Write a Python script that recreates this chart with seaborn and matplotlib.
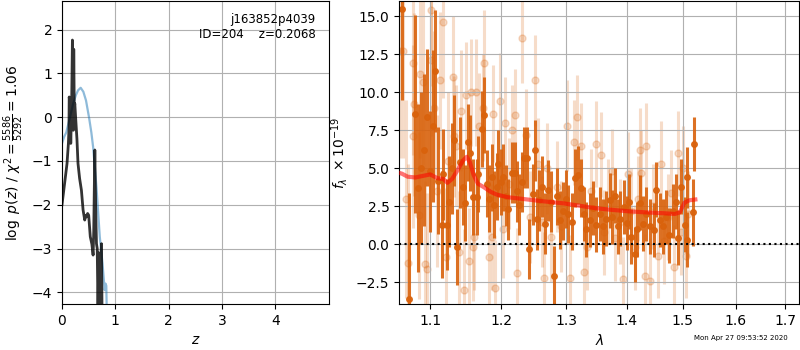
import matplotlib
matplotlib.use("Agg")
import matplotlib.pyplot as plt
import matplotlib.ticker as mticker
import numpy as np
import seaborn as sns

# p(z) panel
z_prior = [0.0, 0.04, 0.08, 0.14, 0.21, 0.26, 0.30, 0.35, 0.40, 0.45, 0.507, 0.55,
           0.583, 0.646, 0.708, 0.759, 0.80, 0.815, 0.83, 0.84]
logp_prior = [-0.6, -0.45, -0.35, -0.05, 0.31, 0.5, 0.61, 0.67, 0.58, 0.38, -0.01, -0.35,
              -0.68, -1.6, -2.73, -3.34, -3.95, -3.8, -3.85, -4.5]

z_fit = [0.0, 0.05, 0.094, 0.12, 0.13, 0.135, 0.15, 0.164, 0.18, 0.195, 0.205, 0.212,
         0.22, 0.23, 0.24, 0.255, 0.27, 0.28, 0.30, 0.33, 0.364, 0.395, 0.426, 0.44,
         0.457, 0.48, 0.50, 0.53, 0.56, 0.583, 0.595, 0.615, 0.63, 0.646, 0.66, 0.675,
         0.69, 0.71, 0.725, 0.74, 0.75, 0.77]
logp_fit = [-2.0, -1.5, -1.06, -0.6, -0.3, 0.46, 0.3, -0.6, 0.2, 1.76, 1.0, -0.3,
            1.55, 0.2, 0.31, 0.0, -0.3, -0.5, -1.06, -1.4, -1.67, -2.12, -2.35, -2.25,
            -2.28, -2.2, -2.24, -2.73, -2.9, -3.15, -2.6, -0.75, -2.0, -2.89, -3.0, -4.4,
            -3.1, -4.4, -3.3, -2.89, -4.4, -4.6]

# spectrum panel - combined points
wave_dark = [1.0625, 1.0721, 1.0791, 1.0831, 1.0875, 1.0915, 1.0955, 1.0995, 1.1045, 1.1068,
             1.1113, 1.1158, 1.1181, 1.1227, 1.1264, 1.1300, 1.1328, 1.1375, 1.1411, 1.1450,
             1.1482, 1.1528, 1.1552, 1.1600, 1.1648, 1.1671, 1.1719, 1.1757, 1.1791, 1.1830,
             1.1863, 1.1900, 1.1936, 1.1960, 1.2000, 1.2033, 1.2070, 1.2107, 1.2157, 1.2207,
             1.2240, 1.2272, 1.2310, 1.2347, 1.2393, 1.2422, 1.2473, 1.2509, 1.2534, 1.2575,
             1.2611, 1.2663, 1.2715, 1.2757, 1.2808, 1.2845, 1.2898, 1.2951, 1.2990, 1.3030,
             1.3084, 1.3138, 1.3191, 1.3229, 1.3283, 1.3326, 1.3381, 1.3435, 1.3490, 1.3546,
             1.3600, 1.3656, 1.3712, 1.3750, 1.3796, 1.3853, 1.3893, 1.3950, 1.4000, 1.4041,
             1.4082, 1.4138, 1.4179, 1.4225, 1.4283, 1.4342, 1.4412, 1.4471, 1.4517, 1.4589,
             1.4637, 1.4697, 1.4744, 1.4816, 1.4877, 1.4907, 1.4968, 1.5030, 1.5073, 1.5080,
             1.5190, 1.5210]
flux_dark = [15.5, -3.6, 8.55, 3.7, 5.0, 6.2, 8.35, 4.8, 7.8, 11.4,
             4.2, 1.3, 4.6, 1.3, 2.8, 5.0, 6.85, -0.2, 5.4, 3.8,
             2.75, 6.7, 6.0, 3.1, 3.1, 4.6, 7.6, 8.5, 4.0, 3.0,
             4.4, 2.6, 3.8, 5.3, 4.1, 4.4, 3.2, 2.3, 4.7, 4.7,
             3.5, 2.6, 4.1, 5.7, 5.7, -0.3, 3.3, 6.2, 1.65, 2.9,
             3.8, 1.35, 3.55, 2.8, -2.1, 3.15, 1.6, 2.2, 3.0, 2.0,
             1.5, 4.35, 4.55, 3.7, 2.0, 1.0, 1.6, 2.4, 1.3, 2.0,
             1.2, 1.7, 2.9, 1.8, 3.2, 1.2, 1.7, 2.45, 1.4, 2.8,
             0.5, -0.65, 1.0, 2.75, 1.35, 2.0, 1.2, 0.95, 3.6, 1.6,
             1.2, 1.8, 0.6, 2.2, 2.8, 0.45, 3.8, 1.3, 0.3, 4.4,
             2.1, 6.6]
err_dark = [6.0, 7.0, 6.5, 5.5, 5.0, 5.0, 4.5, 4.0, 5.0, 4.0,
            3.5, 3.5, 3.0, 3.0, 3.0, 3.0, 3.0, 2.5, 3.0, 2.5,
            2.5, 2.5, 2.5, 2.5, 2.5, 2.5, 2.5, 2.5, 2.2, 2.2,
            2.2, 2.2, 2.2, 2.2, 2.2, 2.2, 2.0, 2.0, 2.0, 2.0,
            2.0, 2.0, 2.0, 2.0, 2.0, 2.0, 2.0, 2.0, 2.0, 2.0,
            2.0, 2.0, 2.0, 2.0, 2.0, 1.9, 1.9, 1.9, 1.9, 1.9,
            1.9, 1.9, 1.9, 1.9, 1.8, 1.8, 1.8, 1.8, 1.8, 1.8,
            1.8, 1.8, 1.8, 1.8, 1.8, 1.8, 1.8, 1.8, 1.8, 1.8,
            1.8, 1.8, 1.8, 1.8, 1.8, 1.8, 1.8, 1.8, 1.8, 1.8,
            1.8, 1.8, 1.8, 1.8, 1.8, 1.8, 1.8, 1.8, 1.8, 2.0,
            2.2, 1.8]

# spectrum panel - individual beams
wave_light = [1.0600, 1.0640, 1.0680, 1.0710, 1.0770, 1.0775, 1.0785, 1.0850, 1.0870, 1.0910,
              1.0930, 1.0960, 1.1010, 1.1015, 1.1050, 1.1090, 1.1130, 1.1180, 1.1210, 1.1240,
              1.1310, 1.1320, 1.1360, 1.1400, 1.1430, 1.1460, 1.1500, 1.1530, 1.1560, 1.1590,
              1.1610, 1.1640, 1.1680, 1.1750, 1.1730, 1.1820, 1.1860, 1.1886, 1.1910, 1.1980,
              1.2030, 1.2060, 1.2110, 1.2160, 1.2210, 1.2230, 1.2307, 1.2380, 1.2430, 1.2509,
              1.2560, 1.2620, 1.2650, 1.2700, 1.2760, 1.2850, 1.2920, 1.3004, 1.3060, 1.3130,
              1.3164, 1.3230, 1.3280, 1.3330, 1.3400, 1.3490, 1.3570, 1.3620, 1.3680, 1.3750,
              1.3800, 1.3880, 1.3940, 1.4020, 1.4080, 1.4140, 1.4190, 1.4225, 1.4250, 1.4310,
              1.4342, 1.4400, 1.4460, 1.4550, 1.4610, 1.4660, 1.4720, 1.4780, 1.4840, 1.4910,
              1.4960, 1.5000, 1.5060, 1.5100]
flux_light = [12.7, 12.7, 3.0, -1.2, 11.9, 7.1, 9.2, 1.9, 11.2, 10.7,
              -1.3, -1.6, 15.4, 12.1, 9.0, 3.5, 10.8, 14.6, -0.8, 5.5,
              11.0, 7.1, 6.5, -0.5, 8.8, -3.0, 9.8, -1.1, 10.0, -0.2,
              0.5, 10.0, 7.8, 11.9, 9.0, -0.8, 0.5, 8.6, -2.9, 9.4,
              1.0, 8.0, 4.0, 7.5, 8.5, -1.9, 13.6, 7.2, 1.8, 10.8,
              5.3, 1.5, -2.2, 5.0, 0.5, 3.8, 1.2, 7.8, -2.2, 6.7,
              8.35, 6.5, -1.8, -0.2, 3.5, 6.6, 5.9, 0.8, 2.8, 4.8,
              0.4, 1.5, -2.3, 4.6, 2.2, -0.2, 3.0, 6.2, 4.7, -2.1,
              6.5, -2.4, 2.5, -0.75, 5.3, 0.2, 1.8, 3.4, -1.5, 6.0,
              0.8, 5.0, -0.75, 2.0]
err_light = [7.0, 7.0, 6.5, 6.5, 6.0, 6.0, 6.0, 5.5, 5.5, 5.5,
             5.5, 5.0, 5.0, 5.0, 5.0, 5.0, 4.5, 5.0, 4.5, 4.5,
             4.0, 4.0, 4.0, 4.0, 4.0, 4.0, 3.5, 3.5, 3.5, 3.5,
             3.5, 3.5, 3.5, 3.5, 3.5, 3.5, 3.5, 3.2, 3.2, 3.2,
             3.2, 3.0, 3.0, 3.0, 3.0, 3.0, 3.0, 3.0, 3.0, 3.0,
             3.0, 3.0, 3.0, 3.0, 3.0, 3.0, 3.0, 3.0, 2.8, 2.8,
             2.8, 2.8, 2.8, 2.8, 2.8, 2.8, 2.8, 2.8, 2.8, 2.8,
             2.8, 2.8, 2.8, 2.8, 2.8, 2.8, 2.8, 2.8, 2.8, 2.8,
             2.8, 2.8, 2.8, 2.8, 2.8, 2.8, 2.8, 2.8, 2.8, 2.8,
             2.8, 2.8, 2.8, 2.8]

# best-fit model
wave_model = [1.059, 1.0625, 1.070, 1.080, 1.090, 1.100, 1.110, 1.118, 1.1235, 1.130,
              1.138, 1.145, 1.1505, 1.155, 1.160, 1.166, 1.1742, 1.185, 1.194, 1.21,
              1.23, 1.26, 1.295, 1.320, 1.349, 1.375, 1.405, 1.435, 1.464, 1.485,
              1.494, 1.503, 1.512, 1.523]
flux_model = [4.7, 4.65, 4.45, 4.4, 4.5, 4.6, 4.35, 4.3, 4.05, 4.3,
              4.9, 5.5, 5.76, 5.4, 4.6, 4.0, 3.78, 3.45, 3.27, 3.1,
              3.0, 2.85, 2.7, 2.55, 2.37, 2.27, 2.17, 2.1, 2.05, 2.0,
              2.1, 2.75, 2.9, 2.95]

orange = '#d9620c'

fig = plt.figure(figsize=(8, 3.5), dpi=100)
ax1 = fig.add_axes([0.0775, 0.131, 0.3335, 0.866])
ax2 = fig.add_axes([0.499, 0.131, 0.5, 0.866])

# left: p(z)
sns.lineplot(x=z_prior, y=logp_prior, ax=ax1, color='#1f77b4', alpha=0.5, lw=1.6,
             sort=False, estimator=None)
sns.lineplot(x=z_fit, y=logp_fit, ax=ax1, color='k', alpha=0.8, lw=2,
             sort=False, estimator=None)
ax1.set_xlim(0, 5.0)
ax1.set_ylim(-4.27, 2.65)
ax1.set_xticks([0, 1, 2, 3, 4])
ax1.set_yticks([-4, -3, -2, -1, 0, 1, 2])
ax1.grid(True)
ax1.set_xlabel('$z$')
ax1.set_ylabel(r'$\log\ p(z)$' + ' / ' + r'$\chi^2=\frac{5586}{5292}=1.06$')
ax1.text(0.95, 0.96, 'j163852p4039\nID=204    z=0.2068', transform=ax1.transAxes,
         ha='right', va='top', fontsize=8.5)

# right: spectrum
ax2.errorbar(wave_light, flux_light, yerr=err_light, color=orange, marker='o', ms=5,
             ls='none', elinewidth=2.2, alpha=0.22, zorder=1)
ax2.errorbar(wave_dark, flux_dark, yerr=err_dark, color=orange, marker='o', ms=4,
             ls='none', elinewidth=2.2, alpha=0.9, zorder=2)
sns.lineplot(x=wave_model, y=flux_model, ax=ax2, color='red', alpha=0.55, lw=3,
             sort=False, estimator=None, zorder=3)
ax2.axhline(0, color='k', ls=':', lw=1.5, zorder=4)
ax2.set_xscale('log')
ax2.set_xlim(1.059, 1.730)
ax2.set_ylim(-3.93, 16.0)
ax2.xaxis.set_major_locator(mticker.FixedLocator([1.1, 1.2, 1.3, 1.4, 1.5, 1.6, 1.7]))
ax2.xaxis.set_major_formatter(mticker.FixedFormatter(['1.1', '1.2', '1.3', '1.4', '1.5', '1.6', '1.7']))
ax2.xaxis.set_minor_locator(mticker.NullLocator())
ax2.set_yticks([-2.5, 0.0, 2.5, 5.0, 7.5, 10.0, 12.5, 15.0])
ax2.grid(True)
ax2.set_xlabel(r'$\lambda$')
ax2.set_ylabel(r'$f_\lambda\ \times 10^{-19}$')

fig.text(0.985, 0.025, 'Mon Apr 27 09:53:52 2020', ha='right', va='bottom', fontsize=5)

fig.savefig('out.png', dpi=100)
